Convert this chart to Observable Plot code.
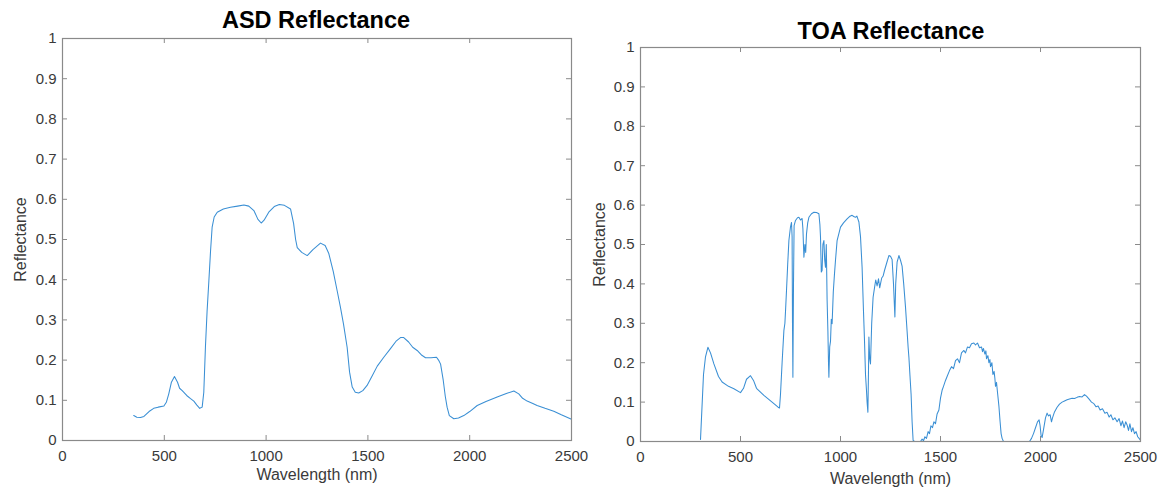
<!DOCTYPE html>
<html><head><meta charset="utf-8">
<script src="https://cdn.jsdelivr.net/npm/d3@7"></script>
<script src="https://cdn.jsdelivr.net/npm/@observablehq/plot@0.6"></script>
<style>
body{margin:0;background:#fff;}
#wrap{position:relative;width:1163px;height:491px;overflow:hidden;font-family:"Liberation Sans",Arial,sans-serif;background:#fff;}
.panel{position:absolute;top:0;}
.panel svg{overflow:visible;}
.title{position:absolute;font-weight:bold;font-size:23.5px;color:#000;text-align:center;white-space:nowrap;transform:translateX(-50%);}
</style></head><body><div id="wrap"></div>
<script>
const titles = ["ASD Reflectance", "TOA Reflectance"];
const xLabel = "Wavelength (nm)";
const yLabel = "Reflectance";
const xTicks = [0, 500, 1000, 1500, 2000, 2500];
const yTicks = [0, 0.1, 0.2, 0.3, 0.4, 0.5, 0.6, 0.7, 0.8, 0.9, 1];

const asdWavelength = [
  350, 365, 383, 400, 425, 448, 470, 498, 510, 522,
  535, 550, 565, 575, 588, 610, 629, 645, 660, 674,
  686, 694, 702, 710, 719, 727, 735, 745, 760, 790,
  825, 860, 891, 915, 940, 960, 976, 990, 1013, 1040,
  1065, 1090, 1120, 1135, 1145, 1153, 1175, 1202, 1230, 1267,
  1290, 1308, 1330, 1350, 1365, 1380, 1398, 1410, 1423, 1438,
  1455, 1475, 1496, 1520, 1546, 1578, 1610, 1640, 1660, 1676,
  1700, 1720, 1742, 1765, 1783, 1810, 1837, 1847, 1857, 1870,
  1880, 1889, 1900, 1922, 1945, 1971, 2000, 2037, 2080, 2135,
  2180, 2217, 2241, 2260, 2282, 2310, 2331, 2370, 2413, 2450,
  2500
];
const asdReflectance = [
  0.062, 0.058, 0.057, 0.060, 0.072, 0.080, 0.083, 0.086, 0.095, 0.116,
  0.145, 0.159, 0.145, 0.130, 0.124, 0.112, 0.104, 0.098, 0.088, 0.080,
  0.083, 0.120, 0.232, 0.320, 0.398, 0.470, 0.531, 0.556, 0.568, 0.576,
  0.580, 0.583, 0.586, 0.583, 0.572, 0.550, 0.541, 0.548, 0.568, 0.582,
  0.587, 0.585, 0.576, 0.540, 0.500, 0.480, 0.468, 0.460, 0.475, 0.491,
  0.485, 0.465, 0.420, 0.370, 0.332, 0.290, 0.232, 0.170, 0.133, 0.120,
  0.118, 0.124, 0.137, 0.160, 0.185, 0.207, 0.228, 0.248, 0.256, 0.256,
  0.245, 0.232, 0.224, 0.212, 0.206, 0.206, 0.207, 0.200, 0.190, 0.150,
  0.110, 0.083, 0.062, 0.054, 0.056, 0.062, 0.072, 0.087, 0.097, 0.108,
  0.117, 0.123, 0.116, 0.105, 0.098, 0.092, 0.087, 0.080, 0.073, 0.064,
  0.053
];

const toaWavelength = [
  300, 305, 315, 325, 337, 350, 367, 390, 408, 440,
  467, 500, 515, 530, 550, 565, 580, 617, 658, 688,
  695, 700, 708, 717, 722, 725, 730, 736, 742, 750,
  755, 758, 760, 762, 765, 768, 775, 785, 792, 800,
  808, 812, 817, 822, 826, 830, 836, 842, 855, 867,
  880, 892, 897, 900, 904, 908, 912, 917, 921, 925,
  929, 933, 937, 940, 942, 946, 950, 954, 958, 964,
  970, 975, 983, 1000, 1015, 1033, 1045, 1058, 1066, 1075,
  1082, 1092, 1100, 1108, 1115, 1120, 1125, 1130, 1133, 1137,
  1140, 1142, 1146, 1150, 1156, 1163, 1170, 1176, 1183, 1190,
  1196, 1200, 1206, 1213, 1220, 1232, 1242, 1250, 1258, 1265,
  1272, 1276, 1283, 1292, 1300, 1308, 1316, 1325, 1333, 1338,
  1342, 1347, 1353, 1358, 1363, 1370, 1400, 1408, 1415, 1422,
  1430, 1438, 1445, 1452, 1460, 1467, 1475, 1483, 1492, 1500,
  1508, 1515, 1525, 1533, 1545, 1555, 1565, 1575, 1585, 1595,
  1605, 1617, 1625, 1635, 1645, 1655, 1667, 1675, 1685, 1695,
  1705, 1710, 1715, 1722, 1727, 1730, 1737, 1742, 1747, 1750,
  1757, 1762, 1768, 1772, 1775, 1780, 1786, 1792, 1798, 1803,
  1808, 1815, 1945, 1955, 1965, 1975, 1985, 1993, 1998, 2003,
  2008, 2015, 2025, 2033, 2040, 2048, 2055, 2060, 2070, 2083,
  2095, 2108, 2120, 2133, 2145, 2158, 2170, 2183, 2195, 2208,
  2220, 2230, 2242, 2255, 2267, 2278, 2288, 2298, 2310, 2322,
  2333, 2343, 2352, 2362, 2372, 2383, 2393, 2402, 2410, 2418,
  2426, 2433, 2440, 2447, 2455, 2462, 2470, 2478, 2486, 2493,
  2500
];
const toaReflectance = [
  0.005, 0.060, 0.170, 0.215, 0.239, 0.225, 0.197, 0.165, 0.151, 0.140,
  0.134, 0.124, 0.135, 0.158, 0.167, 0.155, 0.135, 0.117, 0.100, 0.087,
  0.085, 0.120, 0.200, 0.282, 0.300, 0.330, 0.383, 0.450, 0.510, 0.545,
  0.556, 0.520, 0.300, 0.163, 0.400, 0.548, 0.561, 0.568, 0.569, 0.562,
  0.566, 0.540, 0.468, 0.500, 0.480, 0.527, 0.555, 0.569, 0.578, 0.582,
  0.581, 0.578, 0.550, 0.519, 0.430, 0.434, 0.500, 0.510, 0.460, 0.442,
  0.500, 0.360, 0.280, 0.200, 0.163, 0.240, 0.254, 0.310, 0.299, 0.380,
  0.426, 0.460, 0.510, 0.544, 0.555, 0.565, 0.571, 0.574, 0.571, 0.569,
  0.572, 0.557, 0.520, 0.442, 0.330, 0.256, 0.170, 0.129, 0.100, 0.074,
  0.180, 0.265, 0.210, 0.197, 0.300, 0.366, 0.390, 0.410, 0.395, 0.413,
  0.390, 0.400, 0.415, 0.420, 0.434, 0.455, 0.472, 0.470, 0.462, 0.400,
  0.316, 0.400, 0.455, 0.472, 0.460, 0.445, 0.400, 0.341, 0.280, 0.240,
  0.214, 0.170, 0.120, 0.050, 0.003, 0.000, 0.000, 0.006, 0.002, 0.012,
  0.008, 0.025, 0.020, 0.040, 0.035, 0.050, 0.045, 0.070, 0.080, 0.110,
  0.130, 0.140, 0.155, 0.165, 0.180, 0.190, 0.185, 0.205, 0.210, 0.200,
  0.225, 0.231, 0.225, 0.240, 0.238, 0.248, 0.250, 0.245, 0.250, 0.238,
  0.240, 0.228, 0.236, 0.222, 0.230, 0.210, 0.218, 0.200, 0.208, 0.190,
  0.200, 0.170, 0.178, 0.160, 0.140, 0.150, 0.120, 0.090, 0.050, 0.020,
  0.008, 0.000, 0.000, 0.008, 0.020, 0.035, 0.050, 0.055, 0.040, 0.015,
  0.010, 0.030, 0.060, 0.072, 0.065, 0.068, 0.050, 0.060, 0.075, 0.087,
  0.095, 0.100, 0.103, 0.106, 0.108, 0.110, 0.109, 0.112, 0.114, 0.113,
  0.119, 0.115, 0.108, 0.100, 0.096, 0.088, 0.090, 0.080, 0.083, 0.072,
  0.074, 0.062, 0.068, 0.055, 0.060, 0.050, 0.058, 0.040, 0.052, 0.035,
  0.050, 0.042, 0.028, 0.045, 0.025, 0.035, 0.020, 0.025, 0.012, 0.008,
  0.003
];

const wrap = document.getElementById("wrap");

function makePanel({wl, refl, title, left, width, mL, mR, mT, mB, titleX, titleTop, yLabelOffset, xLabelOffset}) {
  const height = 491;
  const pw = width - mL - mR;
  const ph = height - mT - mB;
  const data = wl.map((w, i) => ({w, r: refl[i]}));
  const tickColor = "#8a8a8a";
  const chart = Plot.plot({
    width, height,
    marginLeft: mL, marginRight: mR, marginTop: mT, marginBottom: mB,
    style: {fontFamily: '"Liberation Sans", Arial, sans-serif', fontSize: "15px", color: "#3a3a3a", background: "transparent"},
    x: {domain: [0, 2500]},
    y: {domain: [0, 1]},
    marks: [
      Plot.line(data, {x: "w", y: "r", stroke: "#3a8fd4", strokeWidth: 1.05}),
      Plot.frame({stroke: tickColor, strokeWidth: 1.2}),
      Plot.tickX(xTicks, {x: d => d, insetTop: ph - 5, stroke: tickColor}),
      Plot.tickX(xTicks, {x: d => d, insetBottom: ph - 5, stroke: tickColor}),
      Plot.tickY(yTicks, {y: d => d, insetRight: pw - 5, stroke: tickColor}),
      Plot.tickY(yTicks, {y: d => d, insetLeft: pw - 5, stroke: tickColor}),
      Plot.axisX(xTicks, {anchor: "bottom", tickSize: 0, tickPadding: 10, tickFormat: d => String(d), label: null}),
      Plot.axisY(yTicks, {anchor: "left", tickSize: 0, tickPadding: 6, tickFormat: d => String(d), label: null}),
      Plot.axisX({anchor: "bottom", ticks: [], tickSize: 0, fontSize: 16,
        label: xLabel, labelAnchor: "center", labelArrow: "none", labelOffset: xLabelOffset}),
      Plot.axisY({anchor: "left", ticks: [], tickSize: 0, fontSize: 16,
        label: yLabel, labelAnchor: "center", labelArrow: "none", labelOffset: yLabelOffset})
    ]
  });
  const div = document.createElement("div");
  div.className = "panel";
  div.style.left = left + "px";
  div.appendChild(chart);
  wrap.appendChild(div);
  const t = document.createElement("div");
  t.className = "title";
  t.textContent = title;
  t.style.left = titleX + "px";
  t.style.top = titleTop + "px";
  wrap.appendChild(t);
}

makePanel({wl: asdWavelength, refl: asdReflectance, title: titles[0], left: 0, width: 590,
  mL: 62, mR: 19, mT: 38, mB: 51, titleX: 316, titleTop: 7, yLabelOffset: 48, xLabelOffset: 39});
makePanel({wl: toaWavelength, refl: toaReflectance, title: titles[1], left: 590, width: 573,
  mL: 50, mR: 23, mT: 47, mB: 50, titleX: 891, titleTop: 18, yLabelOffset: 47, xLabelOffset: 42});
</script>
</body></html>
